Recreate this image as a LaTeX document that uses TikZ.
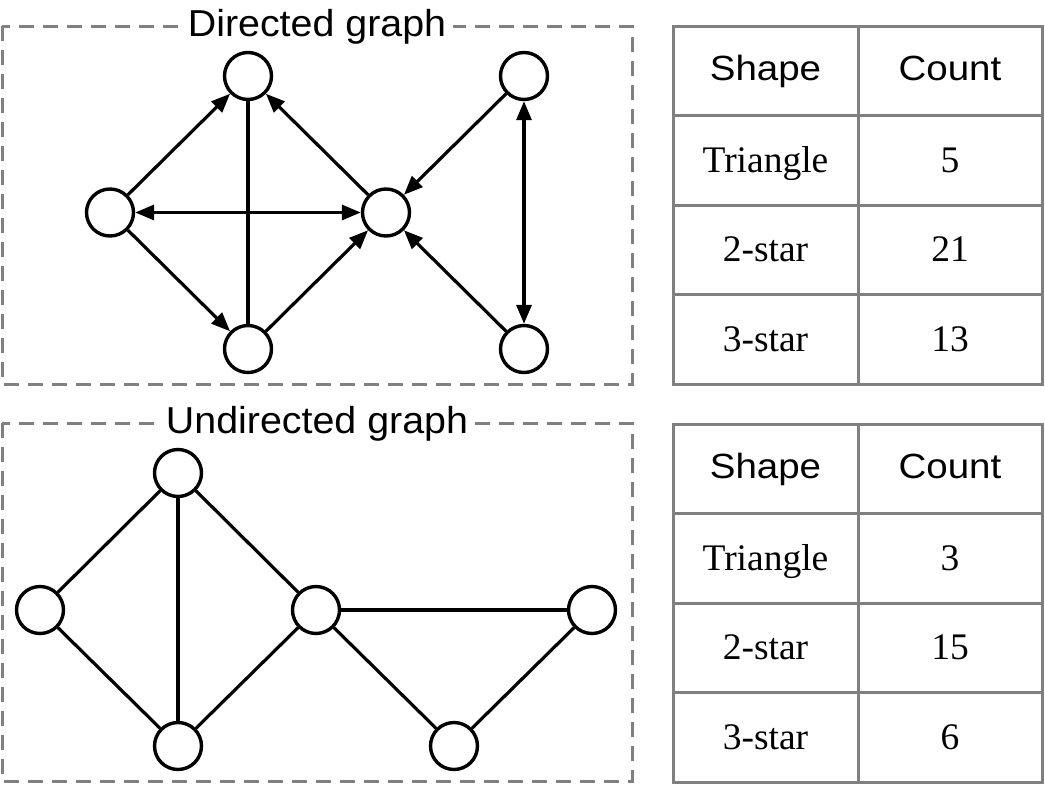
\documentclass[tikz,border=0pt]{standalone}
\usepackage{fontspec}
\setmainfont{Liberation Serif}
\newfontfamily\titlefont[FakeStretch=1.05]{Liberation Sans}
\newfontfamily\headfont[FakeStretch=1.1]{Liberation Sans}
\usetikzlibrary{arrows.meta}

\begin{document}
\begin{tikzpicture}[x=1pt,y=-1pt,
  vertex/.style={draw,circle,line width=3.4pt,minimum size=47pt,inner sep=0pt},
  link/.style={line width=3.2pt},
  arrowlink/.style={link,-{Triangle[length=19pt,width=15pt]}},
  bilink/.style={link,{Triangle[length=19pt,width=15pt]}-{Triangle[length=19pt,width=15pt]}},
  groupbox/.style={draw=gray,line width=3pt,dash pattern=on 15pt off 9pt},
  boxtitle/.style={fill=white,inner xsep=7pt,inner ysep=2pt,anchor=base,font=\titlefont\fontsize{37.5}{40}\selectfont},
  tablerule/.style={draw=gray,line width=3pt},
  head/.style={anchor=base,font=\headfont\fontsize{35}{38}\selectfont},
  cell/.style={anchor=base,font=\fontsize{37.5}{40}\selectfont}]
\useasboundingbox (0,0) rectangle (1045,785);

% directed graph
\draw[groupbox] (2,26) rectangle (632,384);
\node[boxtitle] (dtitle) at (317,36.7) {Directed graph};
\node[vertex] (dtop) at (248,76) {};
\node[vertex] (dleft) at (110,212.5) {};
\node[vertex] (dmid) at (386,212.5) {};
\node[vertex] (dbot) at (248,349) {};
\node[vertex] (dtr) at (524,76) {};
\node[vertex] (dbr) at (524,349) {};
\draw[link] (dtop) -- (dbot);
\draw[arrowlink] (dleft) -- (dtop);
\draw[arrowlink] (dmid) -- (dtop);
\draw[bilink] (dleft) -- (dmid);
\draw[arrowlink] (dleft) -- (dbot);
\draw[arrowlink] (dbot) -- (dmid);
\draw[arrowlink] (dtr) -- (dmid);
\draw[arrowlink] (dbr) -- (dmid);
\draw[bilink] (dtr) -- (dbr);

% undirected graph
\draw[groupbox] (2,423) rectangle (632,781);
\node[boxtitle] (utitle) at (317,433.7) {Undirected graph};
\node[vertex] (utop) at (178,473) {};
\node[vertex] (uleft) at (40,610) {};
\node[vertex] (umid) at (316,610) {};
\node[vertex] (ubot) at (178,746) {};
\node[vertex] (ubr) at (454,746) {};
\node[vertex] (uright) at (592,610) {};
\draw[link] (utop) -- (uleft);
\draw[link] (utop) -- (ubot);
\draw[link] (utop) -- (umid);
\draw[link] (uleft) -- (ubot);
\draw[link] (ubot) -- (umid);
\draw[link] (umid) -- (uright);
\draw[link] (umid) -- (ubr);
\draw[link] (ubr) -- (uright);

% counts, directed
\draw[tablerule] (673,26) rectangle (1042,384);
\draw[tablerule] (858,26) -- (858,384);
\foreach \y in {115.5,205,294.5}
  \draw[tablerule] (673,\y) -- (1042,\y);
\node[head] (dshape) at (765.5,80) {Shape};
\node[head] (dcount) at (950,80) {Count};
\foreach \shape/\num [count=\i] in {Triangle/5,2-star/21,3-star/13}
  {\node[cell] (dshape\i) at (765.5,82.5+89.5*\i) {\shape};
   \node[cell] (dcount\i) at (950,82.5+89.5*\i) {\num};}

% counts, undirected
\draw[tablerule] (673,424) rectangle (1042,782);
\draw[tablerule] (858,424) -- (858,782);
\foreach \y in {513.5,603,692.5}
  \draw[tablerule] (673,\y) -- (1042,\y);
\node[head] (ushape) at (765.5,478) {Shape};
\node[head] (ucount) at (950,478) {Count};
\foreach \shape/\num [count=\i] in {Triangle/3,2-star/15,3-star/6}
  {\node[cell] (ushape\i) at (765.5,480.5+89.5*\i) {\shape};
   \node[cell] (ucount\i) at (950,480.5+89.5*\i) {\num};}
\end{tikzpicture}
\end{document}
